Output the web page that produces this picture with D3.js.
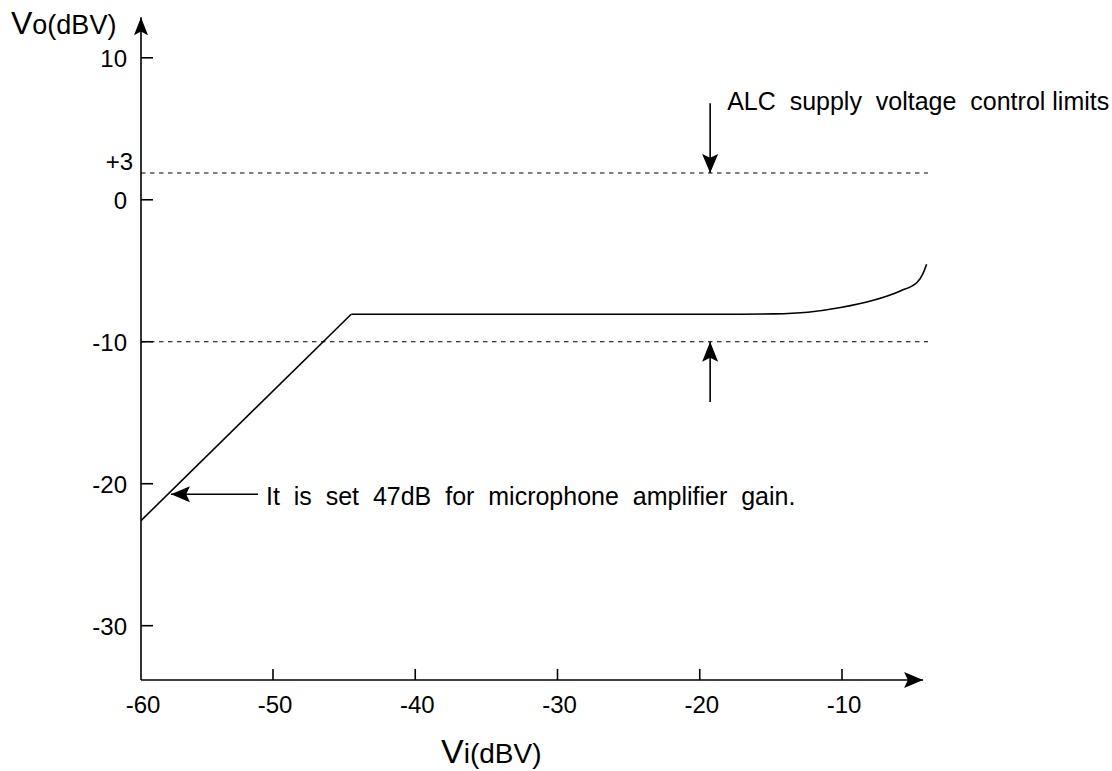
<!DOCTYPE html>
<html>
<head>
<meta charset="utf-8">
<script src="https://cdn.jsdelivr.net/npm/d3@7"></script>
<style>
  body { margin: 0; background: #fff; }
  text { font-family: "Liberation Sans", Arial, sans-serif; fill: #000; white-space: pre; }
</style>
</head>
<body>
<script>
var W = 1112, H = 771;

// axes
var xTicks = [-50, -40, -30, -20, -10];
var xTickLabels = [-60, -50, -40, -30, -20, -10];
var yTicks = [10, 0, -10, -20, -30];
var yTickLabels = ["10", "0", "-10", "-20", "-30"];

// output level curve (Vi -> Vo)
var rampX = [-60, -44.5];
var rampY = [-22.6, -8.06];
var flatX = [-44.5, -17.2, -14.8, -12.4, -10.1, -7.8, -5.9, -4.7, -4.3, -4.05];
var flatY = [-8.06, -8.06, -8.04, -7.92, -7.59, -7.08, -6.42, -5.79, -5.18, -4.54];

// ALC limits (drawn level, label)
var limitValues = [1.89, -10];
var limitLabel = "+3";

var svg = d3.select("body").append("svg")
    .attr("width", W)
    .attr("height", H);

// x axis is hand drawn, -60..-50 slightly narrower
var x = d3.scaleLinear()
    .domain([-60, -50, -10])
    .range([141, 273, 842]);

var y = d3.scaleLinear()
    .domain([10, -30])
    .range([57.8, 625.7]);

var xMin = -60, xMax = -4.3, yMin = -33.82, yMax = 13.0;

function arrowHead(tx, ty, dx, dy, len, half) {
    // notched arrow head, tip at (tx,ty), pointing along (dx,dy)
    var px = -dy, py = dx;
    var bx = tx - dx * len, by = ty - dy * len;
    var nx = tx - dx * len * 0.8, ny = ty - dy * len * 0.8;
    svg.append("path")
        .attr("d", "M" + tx + "," + ty +
            "L" + (bx + px * half) + "," + (by + py * half) +
            "L" + nx + "," + ny +
            "L" + (bx - px * half) + "," + (by - py * half) + "Z")
        .attr("fill", "#000");
}

function arrowLine(x1, y1, x2, y2, len, half) {
    svg.append("line")
        .attr("x1", x1).attr("y1", y1)
        .attr("x2", x2).attr("y2", y2)
        .attr("stroke", "#000")
        .attr("stroke-width", 1.6);
    var d = Math.hypot(x2 - x1, y2 - y1);
    arrowHead(x2, y2, (x2 - x1) / d, (y2 - y1) / d, len, half);
}

// dashed limit lines
svg.selectAll(".limit")
    .data(limitValues)
    .enter()
    .append("line")
    .attr("class", "limit")
    .attr("x1", x(xMin))
    .attr("x2", 928)
    .attr("y1", function(d) { return y(d); })
    .attr("y2", function(d) { return y(d); })
    .attr("stroke", "#000")
    .attr("stroke-width", 1.1)
    .attr("stroke-dasharray", "4.5,4.5");

// axes with arrows
arrowLine(x(xMin), y(yMin), x(xMin), y(yMax) + 2, 18, 7);
arrowLine(x(xMin), y(yMin), x(xMax), y(yMin), 19, 8);

// tick marks
svg.selectAll(".xtick")
    .data(xTicks)
    .enter()
    .append("line")
    .attr("x1", function(d) { return x(d); })
    .attr("x2", function(d) { return x(d); })
    .attr("y1", y(yMin))
    .attr("y2", y(yMin) - 11)
    .attr("stroke", "#000")
    .attr("stroke-width", 1.6);

svg.selectAll(".ytick")
    .data(yTicks)
    .enter()
    .append("line")
    .attr("x1", x(xMin))
    .attr("x2", x(xMin) + 12)
    .attr("y1", function(d) { return y(d); })
    .attr("y2", function(d) { return y(d); })
    .attr("stroke", "#000")
    .attr("stroke-width", 1.6);

// tick labels
svg.selectAll(".xlab")
    .data(xTickLabels)
    .enter()
    .append("text")
    .attr("x", function(d) { return x(d) + 2; })
    .attr("y", y(yMin) + 33)
    .attr("text-anchor", "middle")
    .attr("font-size", 24)
    .text(function(d) { return d; });

svg.selectAll(".ylab")
    .data(yTicks)
    .enter()
    .append("text")
    .attr("x", x(xMin) - 14)
    .attr("y", function(d) { return y(d) + 9; })
    .attr("text-anchor", "end")
    .attr("font-size", 24)
    .text(function(d, i) { return yTickLabels[i]; });

svg.append("text")
    .attr("x", x(xMin) - 8)
    .attr("y", y(limitValues[0]) - 3)
    .attr("text-anchor", "end")
    .attr("font-size", 24)
    .text(limitLabel);

// axis titles
var vo = svg.append("text").attr("x", 11).attr("y", 34);
vo.append("tspan").attr("font-size", 32).text("V");
vo.append("tspan").attr("font-size", 27).text("o(dBV)");

var vi = svg.append("text").attr("x", 441).attr("y", 763);
vi.append("tspan").attr("font-size", 34).text("V");
vi.append("tspan").attr("font-size", 28).text("i(dBV)");

// the curve
var line = d3.line()
    .x(function(d) { return x(d[0]); })
    .y(function(d) { return y(d[1]); });

svg.append("path")
    .datum(d3.zip(rampX, rampY))
    .attr("d", line.curve(d3.curveLinear))
    .attr("fill", "none")
    .attr("stroke", "#000")
    .attr("stroke-width", 1.6);

svg.append("path")
    .datum(d3.zip(flatX, flatY))
    .attr("d", line.curve(d3.curveMonotoneX))
    .attr("fill", "none")
    .attr("stroke", "#000")
    .attr("stroke-width", 1.6);

// annotations
arrowLine(x(-19.27), y(6.8), x(-19.27), y(limitValues[0]), 19, 8);
arrowLine(x(-19.27), y(-14.25), x(-19.27), y(limitValues[1]), 20, 8);
arrowLine(x(-51.14), y(-20.74), x(-57.73), y(-20.74), 19, 8);

svg.append("text")
    .attr("x", x(-19.27) + 17)
    .attr("y", 110)
    .attr("font-size", 25)
    .text("ALC  supply  voltage  control limits");

svg.append("text")
    .attr("x", x(-51.14) + 8)
    .attr("y", y(-20.74) + 11)
    .attr("font-size", 25)
    .text("It  is  set  47dB  for  microphone  amplifier  gain.");
</script>
</body>
</html>
